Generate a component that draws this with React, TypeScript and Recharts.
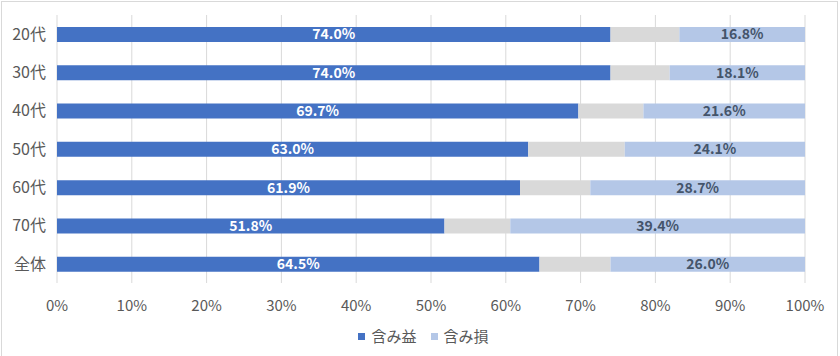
import React from 'react';
import {
  BarChart,
  Bar,
  XAxis,
  YAxis,
  CartesianGrid,
  LabelList,
  Legend,
} from 'recharts';

const ageGroups = ['20代', '30代', '40代', '50代', '60代', '70代', '全体'];
const gainValues = [74.0, 74.0, 69.7, 63.0, 61.9, 51.8, 64.5];
const neutralValues = [9.2, 7.9, 8.7, 12.9, 9.4, 8.8, 9.5];
const lossValues = [16.8, 18.1, 21.6, 24.1, 28.7, 39.4, 26.0];
const percentTicks = [0, 10, 20, 30, 40, 50, 60, 70, 80, 90, 100];

const data = ageGroups.map((name, i) => ({
  name,
  gain: gainValues[i],
  neutral: neutralValues[i],
  loss: lossValues[i],
}));

const FONT = '"Noto Sans CJK JP", "Noto Sans", sans-serif';
const legendItems = [
  { label: '含み益', color: '#4472C4' },
  { label: '含み損', color: '#B4C7E7' },
];

const fmt = (v: any) => `${Number(v).toFixed(1)}%`;

const LegendContent = () => (
  <div
    style={{
      display: 'flex',
      justifyContent: 'center',
      alignItems: 'center',
      paddingTop: 14,
      paddingLeft: 7,
      lineHeight: '18px',
      fontFamily: FONT,
      fontSize: 15,
      color: '#595959',
    }}
  >
    {legendItems.map((it, i) => (
      <div key={it.label} style={{ display: 'flex', alignItems: 'center', marginLeft: i ? 14 : 0 }}>
        <span style={{ width: 7, height: 7, background: it.color, marginRight: 6 }} />
        <span>{it.label}</span>
      </div>
    ))}
  </div>
);

export default function App() {
  return (
    <div style={{ position: 'absolute', left: 0, top: 0, width: 840, height: 356, overflow: 'hidden', background: '#fff' }}>
      <div
        style={{
          position: 'absolute',
          left: 1,
          top: 1,
          width: 837,
          height: 362,
          border: '1px solid #d9d9d9',
          boxSizing: 'border-box',
        }}
      />
      <div style={{ position: 'absolute', left: 0, top: 0 }}>
        <BarChart
          width={840}
          height={356}
          data={data}
          layout="vertical"
          barSize={15}
          margin={{ top: 15, right: 35, left: 0, bottom: 8 }}
          style={{ fontFamily: FONT }}
        >
          <CartesianGrid horizontal={false} stroke="#d9d9d9" />
          <XAxis
            type="number"
            domain={[0, 100]}
            ticks={percentTicks}
            tickFormatter={(v) => `${v}%`}
            axisLine={false}
            tickLine={false}
            tickMargin={11}
            height={30}
            tick={{ fill: '#595959', fontSize: 15 }}
            interval={0}
          />
          <YAxis
            type="category"
            dataKey="name"
            width={57}
            axisLine={false}
            tickLine={false}
            tickMargin={5}
            tick={{ fill: '#595959', fontSize: 16 }}
          />
          <Legend verticalAlign="bottom" height={35} wrapperStyle={{ left: 0, width: 840 }} content={<LegendContent />} />
          <Bar dataKey="gain" stackId="a" fill="#4472C4" isAnimationActive={false}>
            <LabelList dataKey="gain" position="center" formatter={fmt} fill="#ffffff" fontSize={14} fontWeight="bold" />
          </Bar>
          <Bar dataKey="neutral" stackId="a" fill="#D9D9D9" isAnimationActive={false} />
          <Bar dataKey="loss" stackId="a" fill="#B4C7E7" isAnimationActive={false}>
            <LabelList dataKey="loss" position="center" formatter={fmt} fill="#44546A" fontSize={14} fontWeight="bold" />
          </Bar>
        </BarChart>
      </div>
    </div>
  );
}
